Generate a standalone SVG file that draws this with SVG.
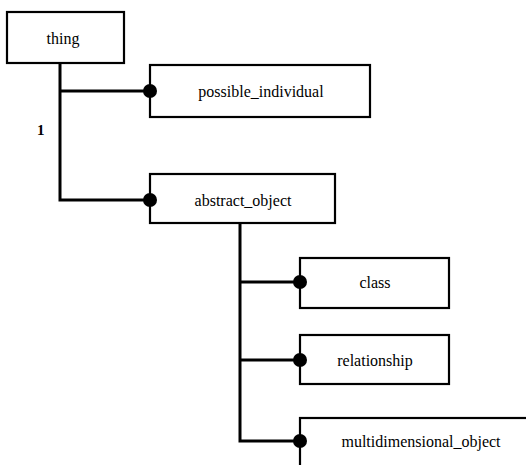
<svg xmlns="http://www.w3.org/2000/svg" width="526" height="465" viewBox="0 0 526 465">
  <style>
    .box { fill: #fff; stroke: #000; stroke-width: 2.2; }
    .lbl { font-family: "Liberation Serif", "Times New Roman", serif; font-size: 16px; fill: #000; text-anchor: middle; }
    .wire { fill: none; stroke: #000; stroke-width: 3; }
    .dot { fill: #000; }
    .card { font-family: "Liberation Serif", "Times New Roman", serif; font-size: 15px; font-weight: bold; fill: #000; }
  </style>

  <g id="thing">
    <rect class="box" x="7" y="12" width="117" height="51"/>
    <text class="lbl" x="63" y="44">thing</text>
  </g>

  <g id="possible_individual">
    <rect class="box" x="150" y="65" width="220" height="52"/>
    <text class="lbl" x="261" y="97">possible_individual</text>
  </g>

  <g id="abstract_object">
    <rect class="box" x="150" y="174" width="185" height="49"/>
    <text class="lbl" x="243" y="206">abstract_object</text>
  </g>

  <g id="class">
    <rect class="box" x="300" y="258" width="149" height="50"/>
    <text class="lbl" x="375" y="288">class</text>
  </g>

  <g id="relationship">
    <rect class="box" x="300" y="335" width="149" height="49"/>
    <text class="lbl" x="375" y="366">relationship</text>
  </g>

  <g id="multidimensional_object">
    <rect class="box" x="300" y="418" width="240" height="60"/>
    <text class="lbl" x="421" y="447">multidimensional_object</text>
  </g>

  <!-- hierarchy connectors, drawn last so the end dots sit over the box edges -->
  <g id="connectors">
    <path class="wire" d="M60,63 V200 H150"/>
    <path class="wire" d="M60,91 H150"/>
    <path class="wire" d="M240,223 V441 H300"/>
    <path class="wire" d="M240,282 H300"/>
    <path class="wire" d="M240,360 H300"/>
    <circle class="dot" cx="150" cy="91" r="7"/>
    <circle class="dot" cx="150" cy="200" r="7"/>
    <circle class="dot" cx="300" cy="282" r="7"/>
    <circle class="dot" cx="300" cy="360" r="7"/>
    <circle class="dot" cx="300" cy="441" r="7"/>
    <text class="card" x="37" y="135">1</text>
  </g>
</svg>
